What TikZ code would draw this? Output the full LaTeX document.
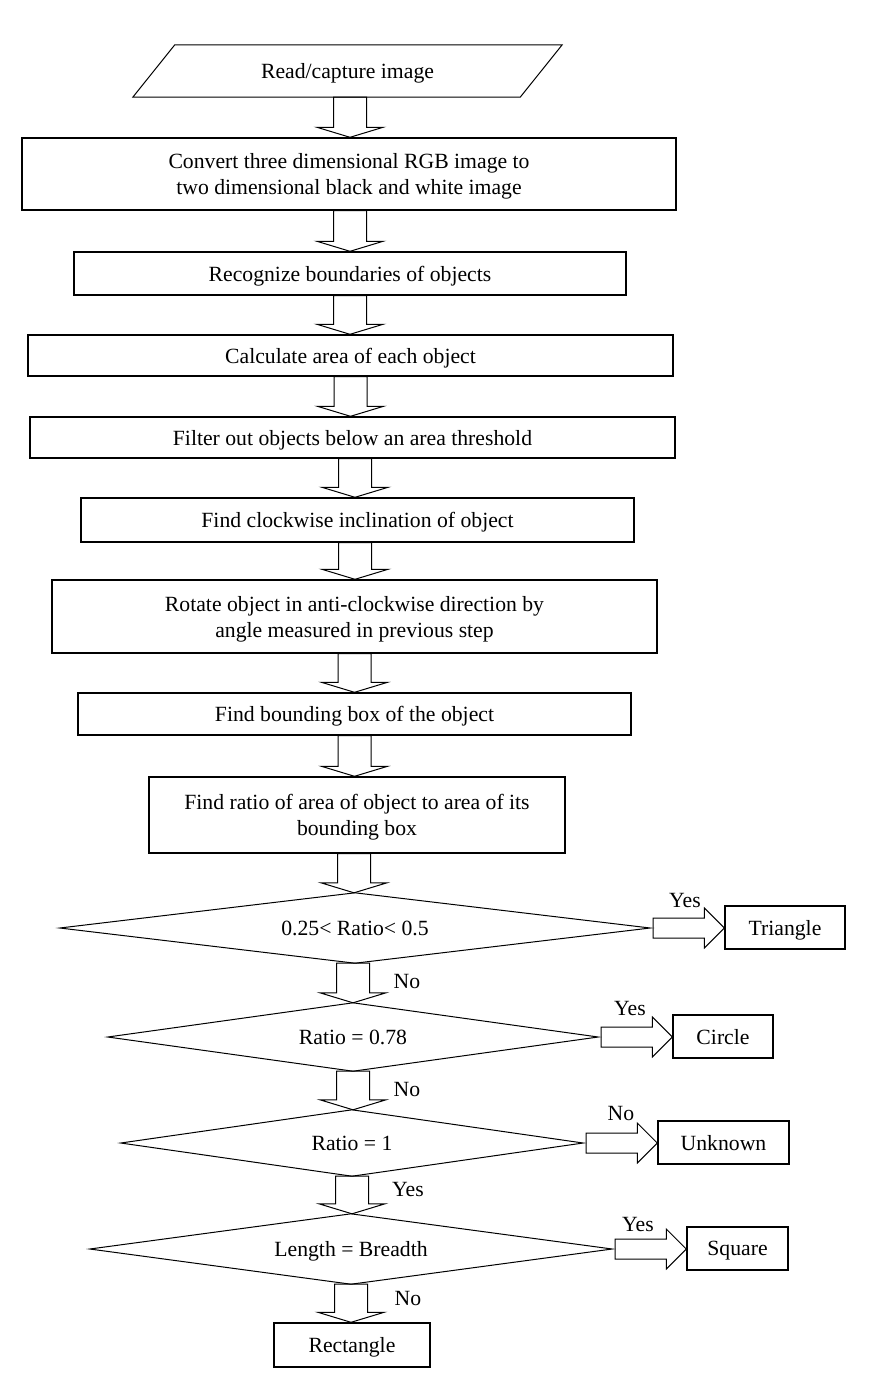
\documentclass[tikz,border=0pt]{standalone}
\usepackage{fontspec}
\setmainfont{Liberation Serif}
\usetikzlibrary{calc}
\tikzset{
  box/.style={draw,line width=1.4pt,inner sep=0pt,align=center,text depth=0pt},
  dec/.style={inner sep=0pt,text depth=0pt},
  decline/.style={line width=1pt},
  lbl/.style={inner sep=0pt},
  blockdown/.style={line width=1pt,to path={let \p1=(\tikztostart),\p2=(\tikztotarget) in
    (\x1-16.5pt,\y1) -- (\x1-16.5pt,\y2+10pt) -- (\x1-33pt,\y2+10pt) -- (\x1,\y2)
    -- (\x1+33pt,\y2+10pt) -- (\x1+16.5pt,\y2+10pt) -- (\x1+16.5pt,\y1) -- cycle}},
  blockright/.style={line width=1pt,to path={let \p1=(\tikztostart),\p2=(\tikztotarget) in
    (\x1+3pt,\y1+10pt) -- (\x2-20pt,\y1+10pt) -- (\x2-20pt,\y1+20pt) -- (\x2,\y1)
    -- (\x2-20pt,\y1-20pt) -- (\x2-20pt,\y1-10pt) -- (\x1+3pt,\y1-10pt) -- cycle}}
}
\begin{document}
\begin{tikzpicture}[x=1pt,y=-1pt,font=\fontsize{21.7}{26}\selectfont]
\useasboundingbox (0,0) rectangle (880,1395);
% input
\node[lbl,text depth=0pt,minimum width=387pt,minimum height=52pt] (p) at (347.5,71) {Read/capture image};
\draw[line width=1pt] ([xshift=21pt]p.north west) -- ([xshift=21pt]p.north east)
  -- ([xshift=-21pt]p.south east) -- ([xshift=-21pt]p.south west) -- cycle;
% process boxes
\node[box,minimum width=654pt,minimum height=72pt] (b2) at (349,174) {Convert three dimensional RGB image to\\two dimensional black and white image};
\node[box,minimum width=552pt,minimum height=43pt] (b3) at (350,273.5) {Recognize boundaries of objects};
\node[box,minimum width=645pt,minimum height=41pt] (b4) at (350.5,355.5) {Calculate area of each object};
\node[box,minimum width=645pt,minimum height=41pt] (b5) at (352.5,437.5) {Filter out objects below an area threshold};
\node[box,minimum width=553pt,minimum height=44pt] (b6) at (357.5,520) {Find clockwise inclination of object};
\node[box,minimum width=605pt,minimum height=73pt] (b7) at (354.5,616.5) {Rotate object in anti-clockwise direction by\\angle measured in previous step};
\node[box,minimum width=553pt,minimum height=42pt] (b8) at (354.5,714) {Find bounding box of the object};
\node[box,minimum width=416pt,minimum height=76pt] (b9) at (357,815) {Find ratio of area of object to area of its\\bounding box};
% decisions
\node[dec,minimum width=590pt,minimum height=70pt] (d1) at (355,928) {0.25< Ratio< 0.5};
\node[dec,minimum width=490pt,minimum height=68pt] (d2) at (353,1037) {Ratio = 0.78};
\node[dec,minimum width=462pt,minimum height=66pt] (d3) at (352,1143) {Ratio = 1};
\node[dec,minimum width=522pt,minimum height=70pt] (d4) at (351,1249) {Length = Breadth};
\foreach \d in {d1,d2,d3,d4}
  \draw[decline] (\d.west) -- (\d.north) -- (\d.east) -- (\d.south) -- cycle;
% results
\node[box,minimum width=120pt,minimum height=43pt] (r1) at (785,927.5) {Triangle};
\node[box,minimum width=100pt,minimum height=43pt] (r2) at (723,1036.5) {Circle};
\node[box,minimum width=131pt,minimum height=43pt] (r3) at (723.5,1142.5) {Unknown};
\node[box,minimum width=101pt,minimum height=43pt] (r4) at (737.5,1248.5) {Square};
\node[box,minimum width=156pt,minimum height=44pt] (r5) at (352,1345) {Rectangle};
% down block arrows
\draw[blockdown] ([xshift=2.5pt]p.south) to (b2.north);
\draw[blockdown] ([xshift=1pt]b2.south) to (b3.north);
\draw[blockdown] (b3.south) to (b4.north);
\draw[blockdown] (b4.south) to (b5.north);
\draw[blockdown] ([xshift=2.5pt]b5.south) to (b6.north);
\draw[blockdown] ([xshift=-2.5pt]b6.south) to (b7.north);
\draw[blockdown] (b7.south) to (b8.north);
\draw[blockdown] (b8.south) to (b9.north);
\draw[blockdown] ([xshift=-3pt]b9.south) to (d1.north);
\draw[blockdown] ([xshift=-2pt]d1.south) to (d2.north);
\draw[blockdown] (d2.south) to (d3.north);
\draw[blockdown] (d3.south) to (d4.north);
\draw[blockdown] (d4.south) to (r5.north);
% right block arrows
\draw[blockright] (d1.east) to (r1.west);
\draw[blockright] (d2.east) to (r2.west);
\draw[blockright] (d3.east) to (r3.west);
\draw[blockright] (d4.east) to (r4.west);
% labels
\node[lbl] (y1) at (685,900) {Yes};
\node[lbl] (n1) at (407,981) {No};
\node[lbl] (y2) at (630,1008) {Yes};
\node[lbl] (n2) at (407,1089) {No};
\node[lbl] (n3) at (621,1113) {No};
\node[lbl] (y3) at (408,1189) {Yes};
\node[lbl] (y4) at (638,1224) {Yes};
\node[lbl] (n4) at (408,1298) {No};
\end{tikzpicture}
\end{document}
